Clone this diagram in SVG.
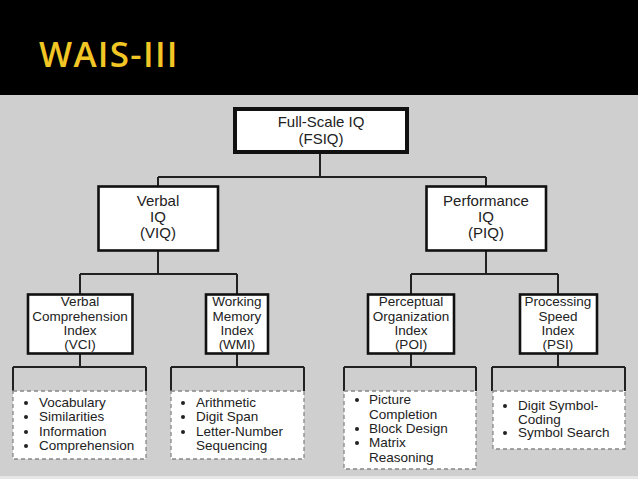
<svg xmlns="http://www.w3.org/2000/svg" width="638" height="479" viewBox="0 0 638 479">
<style>
.t{font-family:"Liberation Sans",Arial,sans-serif;fill:#222;text-anchor:middle}
.l{font-family:"Liberation Sans",Arial,sans-serif;fill:#222;font-size:13.5px}
.box{fill:#fff;stroke:#111}
.dash{fill:#fff;stroke:#888;stroke-width:1.3;stroke-dasharray:4 3}
.c{fill:none;stroke:#222;stroke-width:2}
.b{fill:#222}
</style>
<rect x="0" y="0" width="638" height="95" fill="#000"/>
<rect x="0" y="95" width="638" height="381" fill="#cfcfcf"/>
<rect x="0" y="476" width="638" height="3" fill="#e6e6e6"/>
<text x="39" y="67" font-family="Open Sans,sans-serif" font-weight="600" font-size="35" letter-spacing="1.3" fill="#f2c624">WAIS-III</text>

<g id="connectors">
<path class="c" d="M320 154V177M158 177H486M158 177V187M486 177V187"/>
<path class="c" d="M158 251V274M80 274H237M80 274V294M237 274V294"/>
<path class="c" d="M486 251V274M411 274H558M411 274V294M558 274V294"/>
<path class="c" d="M80 354V367M13 367H146M13 367V391M146 367V391"/>
<path class="c" d="M237 354V367M171 367H304M171 367V391M304 367V391"/>
<path class="c" d="M411 354V367M344 367H476M344 367V391M476 367V391"/>
<path class="c" d="M558 354V367M492 367H625M492 367V391M625 367V391"/>
</g>

<g id="fsiq">
<rect class="box" x="235" y="109" width="172" height="43" stroke-width="4"/>
<text class="t" x="321" y="127" font-size="15">Full-Scale IQ</text>
<text class="t" x="321" y="144" font-size="15">(FSIQ)</text>
</g>
<g id="viq">
<rect class="box" x="98.5" y="186.5" width="119.5" height="64" stroke-width="2.6"/>
<text class="t" x="158" y="206" font-size="15">Verbal</text>
<text class="t" x="158" y="222" font-size="15">IQ</text>
<text class="t" x="158" y="238" font-size="15">(VIQ)</text>
</g>
<g id="piq">
<rect class="box" x="426.5" y="186.5" width="119.5" height="64" stroke-width="2.6"/>
<text class="t" x="486" y="206" font-size="15">Performance</text>
<text class="t" x="486" y="222" font-size="15">IQ</text>
<text class="t" x="486" y="238" font-size="15">(PIQ)</text>
</g>
<g id="vci">
<rect class="box" x="28" y="294.5" width="104.5" height="59" stroke-width="2.6"/>
<text class="t" x="80" y="306" font-size="13.5">Verbal</text>
<text class="t" x="80" y="320.5" font-size="13.5">Comprehension</text>
<text class="t" x="80" y="335" font-size="13.5">Index</text>
<text class="t" x="80" y="349" font-size="13.5">(VCI)</text>
</g>
<g id="wmi">
<rect class="box" x="206" y="294.5" width="62" height="59" stroke-width="2.6"/>
<text class="t" x="237" y="306" font-size="13.5">Working</text>
<text class="t" x="237" y="320.5" font-size="13.5">Memory</text>
<text class="t" x="237" y="335" font-size="13.5">Index</text>
<text class="t" x="237" y="349" font-size="13.5">(WMI)</text>
</g>
<g id="poi">
<rect class="box" x="368" y="294.5" width="86" height="59" stroke-width="2.6"/>
<text class="t" x="411" y="306" font-size="13.5">Perceptual</text>
<text class="t" x="411" y="320.5" font-size="13.5">Organization</text>
<text class="t" x="411" y="335" font-size="13.5">Index</text>
<text class="t" x="411" y="349" font-size="13.5">(POI)</text>
</g>
<g id="psi">
<rect class="box" x="520" y="294.5" width="77" height="59" stroke-width="2.6"/>
<text class="t" x="558" y="306" font-size="13.5">Processing</text>
<text class="t" x="558" y="320.5" font-size="13.5">Speed</text>
<text class="t" x="558" y="335" font-size="13.5">Index</text>
<text class="t" x="558" y="349" font-size="13.5">(PSI)</text>
</g>

<g id="vci-list">
<rect class="dash" x="13" y="391" width="133" height="68"/>
<circle class="b" cx="26" cy="403" r="2"/><text class="l" x="39" y="407">Vocabulary</text>
<circle class="b" cx="26" cy="417" r="2"/><text class="l" x="39" y="421">Similarities</text>
<circle class="b" cx="26" cy="432" r="2"/><text class="l" x="39" y="436">Information</text>
<circle class="b" cx="26" cy="446" r="2"/><text class="l" x="39" y="450">Comprehension</text>
</g>
<g id="wmi-list">
<rect class="dash" x="171" y="391" width="133" height="68"/>
<circle class="b" cx="183" cy="403" r="2"/><text class="l" x="196" y="407">Arithmetic</text>
<circle class="b" cx="183" cy="417" r="2"/><text class="l" x="196" y="421">Digit Span</text>
<circle class="b" cx="183" cy="432" r="2"/><text class="l" x="196" y="436">Letter-Number</text>
<text class="l" x="196" y="450">Sequencing</text>
</g>
<g id="poi-list">
<rect class="dash" x="344" y="391" width="132" height="78"/>
<circle class="b" cx="357" cy="400" r="2"/><text class="l" x="369" y="404">Picture</text>
<text class="l" x="369" y="418.5">Completion</text>
<circle class="b" cx="357" cy="429" r="2"/><text class="l" x="369" y="433">Block Design</text>
<circle class="b" cx="357" cy="443" r="2"/><text class="l" x="369" y="447">Matrix</text>
<text class="l" x="369" y="462">Reasoning</text>
</g>
<g id="psi-list">
<rect class="dash" x="493" y="391" width="132" height="58"/>
<circle class="b" cx="505" cy="406" r="2"/><text class="l" x="518" y="410">Digit Symbol-</text>
<text class="l" x="518" y="423.5">Coding</text>
<circle class="b" cx="505" cy="433" r="2"/><text class="l" x="518" y="437">Symbol Search</text>
</g>
</svg>
